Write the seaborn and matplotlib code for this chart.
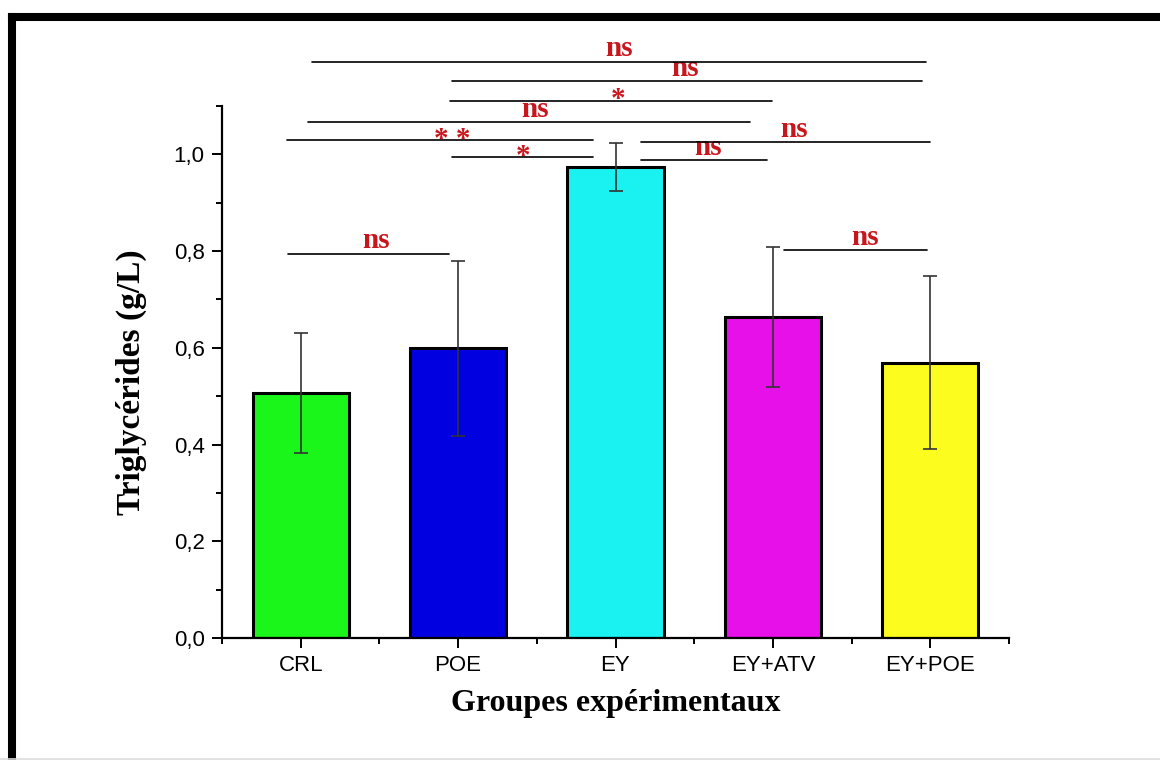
import numpy as np
import pandas as pd
import seaborn as sns
import matplotlib
matplotlib.use("Agg")
import matplotlib.pyplot as plt
from matplotlib.lines import Line2D
from matplotlib.ticker import FixedLocator

# ---- data ----
groups = ["CRL", "POE", "EY", "EY+ATV", "EY+POE"]
means = [0.507, 0.599, 0.974, 0.664, 0.569]
sds = [0.124, 0.181, 0.049, 0.145, 0.179]
bar_colors = ["#1af51a", "#0000e0", "#1af2f2", "#e810e8", "#fcfc1e"]
ytick_vals = [0.0, 0.2, 0.4, 0.6, 0.8, 1.0]
ytick_labels = ["0,0", "0,2", "0,4", "0,6", "0,8", "1,0"]

# significance brackets (start, end in category units, height, label, label x)
sig_x0 = [0.073, 0.959, 0.946, 0.044, -0.089, 0.959, 2.159, 2.159, -0.083, 3.073]
sig_x1 = [3.975, 3.949, 2.997, 2.857, 1.860, 1.860, 4.000, 2.965, 0.940, 3.981]
sig_y = [1.192, 1.151, 1.110, 1.066, 1.029, 0.994, 1.025, 0.988, 0.795, 0.802]
sig_label = ["ns", "ns", "*", "ns", "* *", "*", "ns", "ns", "ns", "ns"]
sig_label_x = [2.025, 2.444, 2.019, 1.486, 0.965, 1.410, 3.137, 2.590, 0.476, 3.587]

df = pd.DataFrame({"group": groups, "mean": means, "sd": sds})

sns.set_theme(style="ticks")
plt.rcParams["font.family"] = ["Liberation Sans", "DejaVu Sans"]
plt.rcParams["text.color"] = "black"
plt.rcParams["axes.labelcolor"] = "black"
plt.rcParams["xtick.color"] = "black"
plt.rcParams["ytick.color"] = "black"

fig = plt.figure(figsize=(11.6, 7.6), dpi=100)
ax = fig.add_axes([222 / 1160, 1 - 638 / 760, (1009 - 222) / 1160, (638 - 106) / 760])

sns.barplot(data=df, x="group", y="mean", hue="group", palette=bar_colors,
            saturation=1, width=0.61, errorbar=None, legend=False,
            edgecolor="black", linewidth=2.2, ax=ax, zorder=2)

ax.errorbar(np.arange(len(groups)), df["mean"], yerr=df["sd"], fmt="none",
            ecolor="#333333", elinewidth=1.2, capsize=4.7, capthick=1.2, zorder=3)

ax.set_xlim(-0.5, 4.5)
ax.set_ylim(0, 1.1)
ax.set_yticks(ytick_vals)
ax.set_yticklabels(ytick_labels)
ax.yaxis.set_minor_locator(FixedLocator([0.1, 0.3, 0.5, 0.7, 0.9, 1.1]))
ax.xaxis.set_minor_locator(FixedLocator([-0.5, 0.5, 1.5, 2.5, 3.5, 4.5]))

for s in ["top", "right"]:
    ax.spines[s].set_visible(False)
for s in ["left", "bottom"]:
    ax.spines[s].set_linewidth(1.6)
    ax.spines[s].set_color("black")

ax.tick_params(axis="both", which="major", direction="out", length=7.5, width=1.4,
               color="black", labelcolor="black", labelsize=16, pad=5)
ax.tick_params(axis="both", which="minor", direction="out", length=4.5, width=1.4,
               color="black")

serif_bold = dict(family=["Liberation Serif", "DejaVu Serif"], weight="bold")
ax.set_xlabel("Groupes expérimentaux", fontsize=23, labelpad=9, color="black", **serif_bold)
ax.set_ylabel("Triglycérides (g/L)", fontsize=24, labelpad=14, color="black", **serif_bold)
ax.yaxis.set_label_coords(-0.095, 0.481)

red = "#c8161d"
for x0, x1, y, lab, lx in zip(sig_x0, sig_x1, sig_y, sig_label, sig_label_x):
    ax.add_line(Line2D([x0, x1], [y, y], color="black", lw=1.2, clip_on=False, zorder=4))
    off = 4 if lab == "ns" else -4.5
    ax.annotate(lab, xy=(lx, y), xytext=(0, off), textcoords="offset points",
                ha="center", va="baseline", color=red, fontsize=21,
                annotation_clip=False, **serif_bold)

# black frame (top and left edges visible)
lw_frame = 5.8
fig.add_artist(Line2D([12 / 1160, 12 / 1160], [-0.05, 1 - 17 / 760], color="black",
                      lw=lw_frame, solid_capstyle="projecting", transform=fig.transFigure))
fig.add_artist(Line2D([12 / 1160, 1.05], [1 - 17 / 760, 1 - 17 / 760], color="black",
                      lw=lw_frame, solid_capstyle="projecting", transform=fig.transFigure))
fig.add_artist(Line2D([0, 1], [1.5 / 760, 1.5 / 760], color="#dddddd", lw=1.2,
                      transform=fig.transFigure))

fig.savefig("out.png", dpi=100, facecolor="white")
